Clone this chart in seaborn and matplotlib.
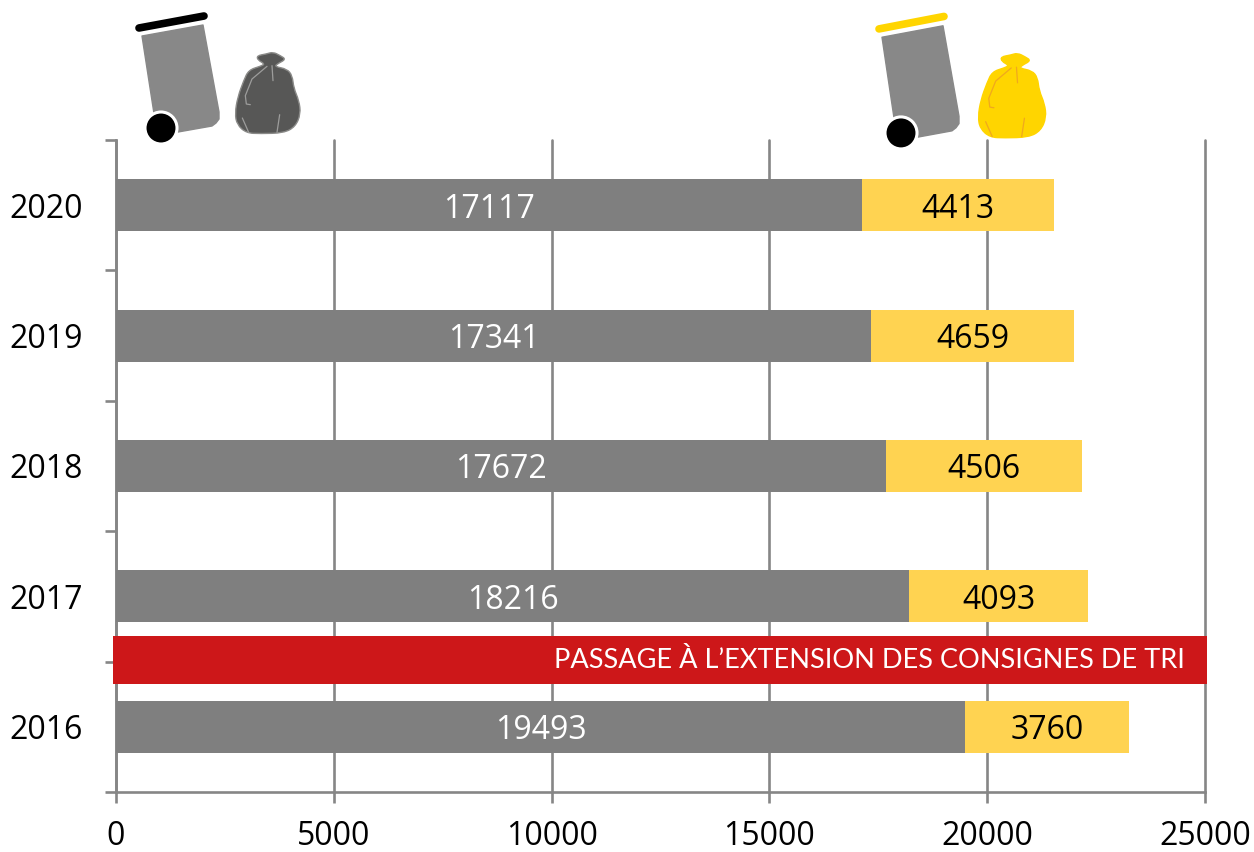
import pandas as pd
import seaborn as sns
import matplotlib.pyplot as plt
from matplotlib.path import Path
from matplotlib.patches import PathPatch, Circle, Rectangle

years = ["2020", "2019", "2018", "2017", "2016"]
ordures = [17117, 17341, 17672, 18216, 19493]
tri = [4413, 4659, 4506, 4093, 3760]
x_ticks = [0, 5000, 10000, 15000, 20000, 25000]
banner = "PASSAGE À L’EXTENSION DES CONSIGNES DE TRI"

GREY = "#7f7f7f"
YELLOW = "#ffd351"
RED = "#cd1719"
AXIS = "#868686"

sns.set_theme(style="white")
plt.rcParams["font.family"] = ["Open Sans", "DejaVu Sans"]

df = pd.DataFrame({"year": years, "ordures": ordures, "tri": tri})

fig = plt.figure(figsize=(12.54, 8.52), dpi=100)
ax = fig.add_axes([116 / 1254, 1 - 792 / 852, (1205 - 116) / 1254, (792 - 140) / 852])

# stacked bars: yellow starts where the grey one stops
sns.barplot(data=df, y="year", x="ordures", color=GREY, saturation=1, width=0.4, linewidth=0, ax=ax, zorder=3)
sns.barplot(data=df, y="year", x="tri", left=df["ordures"], color=YELLOW, saturation=1, width=0.4, linewidth=0, ax=ax, zorder=3)

grey_labels = ax.bar_label(ax.containers[0], labels=[str(v) for v in ordures], label_type="center", color="white",
                           fontsize=23, zorder=5)
yellow_labels = ax.bar_label(ax.containers[1], labels=[str(v) for v in tri], label_type="center", color="black",
                             fontsize=23, zorder=5)
for t in list(grey_labels) + list(yellow_labels):
    t.set_va("center_baseline")

ax.set_xlim(0, 25000)
ax.set_ylim(4.5, -0.5)
ax.set_xlabel("")
ax.set_ylabel("")

# vertical grid and axes
ax.set_xticks(x_ticks)
ax.set_xticklabels([str(v) for v in x_ticks], fontsize=23, color="black")
ax.grid(axis="x", color=AXIS, lw=1.9, zorder=1, clip_on=False)
ax.set_axisbelow(True)
ax.tick_params(axis="x", which="major", length=8, width=1.9, color=AXIS, pad=12, bottom=True)

# year labels sit between the ticks
ax.set_yticks([i - 0.5 for i in range(len(years) + 1)])
ax.set_yticklabels([])
ax.set_yticks(range(len(years)), labels=years, minor=True, fontsize=23, color="black", va="center_baseline")
ax.tick_params(axis="y", which="major", length=8, width=1.9, color=AXIS, left=True)
ax.tick_params(axis="y", which="minor", length=0, pad=24, left=False)

sns.despine(ax=ax, top=True, right=True)
for s in ["left", "bottom"]:
    ax.spines[s].set_color(AXIS)
    ax.spines[s].set_linewidth(1.9)

# red banner
ax.add_patch(Rectangle((-70, 3.305), 25110, 0.368, color=RED, lw=0, clip_on=False, zorder=4))
ax.text(24540, 3.49, banner, color="white", fontsize=19.5, family=["Lato", "DejaVu Sans"],
        ha="right", va="center", zorder=5)

# icons, drawn in pixel coordinates of the image
over = fig.add_axes([0, 0, 1, 1], zorder=10)
over.set_xlim(0, 1254)
over.set_ylim(852, 0)
over.axis("off")


def smooth(points):
    verts = []
    codes = []
    n = len(points)
    mid = lambda a, b: ((a[0] + b[0]) / 2, (a[1] + b[1]) / 2)
    verts.append(mid(points[-1], points[0]))
    codes.append(Path.MOVETO)
    for i in range(n):
        verts.append(points[i])
        codes.append(Path.CURVE3)
        verts.append(mid(points[i], points[(i + 1) % n]))
        codes.append(Path.CURVE3)
    return Path(verts, codes)


bag_shape = [(410, 165), (438, 160), (458, 154), (480, 165), (497, 176), (470, 190), (464, 198), (500, 205),
             (516, 225), (520, 262), (536, 300), (541, 340), (525, 378), (490, 397), (420, 399), (378, 397),
             (350, 372), (344, 338), (352, 290), (370, 240), (385, 208), (420, 197), (434, 190), (412, 178)]
bag_creases = [[(440, 197), (395, 235), (375, 285), (378, 310), (390, 312)],
               [(455, 195), (458, 240)],
               [(366, 352), (385, 395)],
               [(478, 342), (470, 395)]]


def draw_bag(dx, dy, scale, fill, crease, edge):
    conv = lambda p: (dx + (p[0] - 344) / 3 * scale, dy + (p[1] - 154) / 3 * scale)
    over.add_patch(PathPatch(smooth([conv(p) for p in bag_shape]), fc=fill, ec=edge, lw=1))
    for c in bag_creases:
        pts = [conv(p) for p in c]
        over.plot([p[0] for p in pts], [p[1] for p in pts], color=crease, lw=0.9, solid_capstyle="round")


def draw_bin(ox, oy, sy, lid):
    conv = lambda x, y: (x + ox, y + oy + (y - 30) * sy)
    body = [(142, 36), (203, 25), (219, 112), (219, 119), (216, 123), (212, 126), (178, 132), (155, 120)]
    over.add_patch(plt.Polygon([conv(x, y) for x, y in body], closed=True, fc="#888888", ec="#888888", lw=1,
                               joinstyle="round"))
    a = conv(139, 28)
    b = conv(204, 16)
    over.plot([a[0], b[0]], [a[1], b[1]], color=lid, lw=5.5, solid_capstyle="round")
    cx, cy = conv(161, 128)
    over.add_patch(Circle((cx, cy), 16, fc="black", ec="white", lw=2.2))


draw_bin(0, 0, 0, "black")
draw_bag(235, 52, 1.0, "#575756", "#9d9d9c", "#8a8a88")
draw_bin(740, 1, 0.04, "#ffd500")
draw_bag(978, 53, 1.04, "#ffd500", "#f0a81e", "#ffd500")

fig.savefig("out.png", dpi=100)
